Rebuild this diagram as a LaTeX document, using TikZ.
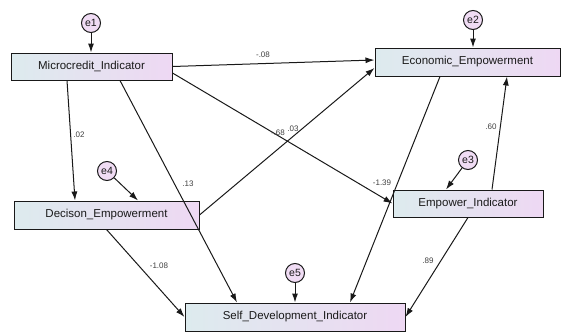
\documentclass[tikz,border=0pt]{standalone}
\usepackage{fontspec}
\setmainfont{Liberation Sans}
\usetikzlibrary{arrows.meta,positioning}
\tikzset{
	>={Latex[length=9pt,width=6pt]},
}
\definecolor{boxleft}{HTML}{DDEBEE}
\definecolor{boxright}{HTML}{EED8F3}
\definecolor{ballfill}{HTML}{F0DCF4}
\definecolor{txt}{HTML}{1A1A1A}

\begin{document}
\begin{tikzpicture}[x=1pt, y=-1pt, line width=1pt, color=black!90,
	block/.style = {draw, left color=boxleft, right color=boxright, align=center, inner sep=0, font=\fontsize{11.5}{12}\selectfont, text=txt},
	ball/.style = {circle, draw, fill=ballfill, align=center, inner sep=0, minimum size=19pt, font=\fontsize{10.5}{11}\selectfont, text=txt},
	coef/.style = {font=\fontsize{8}{9}\selectfont, text=black!75, inner sep=1pt}]
\useasboundingbox (0,0) rectangle (562,332);
% observed variables
\node[block, minimum width=161pt, minimum height=27pt] (micro) at (91.5,66.5) {Microcredit\_Indicator};
\node[block, minimum width=185pt, minimum height=28pt] (econ) at (467.5,62) {Economic\_Empowerment};
\node[block, minimum width=185pt, minimum height=28pt] (decison) at (106.5,215) {Decison\_Empowerment};
\node[block, minimum width=150pt, minimum height=27pt] (empind) at (468,203.5) {Empower\_Indicator};
\node[block, minimum width=220pt, minimum height=28pt] (selfdev) at (295,317) {Self\_Development\_Indicator};
% error terms
\node[ball] (e1) at (91,23) {e1};
\node[ball] (e2) at (473,20) {e2};
\node[ball] (e3) at (468,160) {e3};
\node[ball] (e4) at (107,171) {e4};
\node[ball] (e5) at (295,273) {e5};
\draw[->] (e1) -- (e1 |- micro.north);
\draw[->] (e2) -- (e2 |- econ.north);
\draw[->] (e3) -- ([xshift=-22pt]empind.north);
\draw[->] (e4) -- ([xshift=31.5pt]decison.north);
\draw[->] (e5) -- (selfdev.north);
% paths
\draw[->] (micro.east) -- ([yshift=2pt]econ.west);
\draw[->] ([yshift=-6.5pt]micro.east) -- (empind.west);
\draw[->] ([xshift=-24.5pt]micro.south) -- ([xshift=-31.5pt]decison.north);
\draw[->] ([xshift=28.5pt]micro.south) -- ([xshift=-58pt]selfdev.north);
\draw[->] (decison.east) -- ([yshift=-6pt]econ.west);
\draw[->] (decison.south) -- (selfdev.west);
\draw[->] ([xshift=-27.5pt]econ.south) -- ([xshift=55pt]selfdev.north);
\draw[->] ([xshift=24pt]empind.north) -- ([xshift=39.5pt]econ.south);
\draw[->] (empind.south) -- (selfdev.east);
% estimates
\node[coef] (c1) at (263,55) {-.08};
\node[coef] (c2) at (79,135) {.02};
\node[coef] (c3) at (188,184) {.13};
\node[coef] (c4) at (278,133) {-.68};
\node[coef] (c5) at (293,129) {.03};
\node[coef] (c6) at (382,183) {-1.39};
\node[coef] (c7) at (491,127) {.60};
\node[coef] (c8) at (159,266) {-1.08};
\node[coef] (c9) at (428,261) {.89};
\end{tikzpicture}
\end{document}
